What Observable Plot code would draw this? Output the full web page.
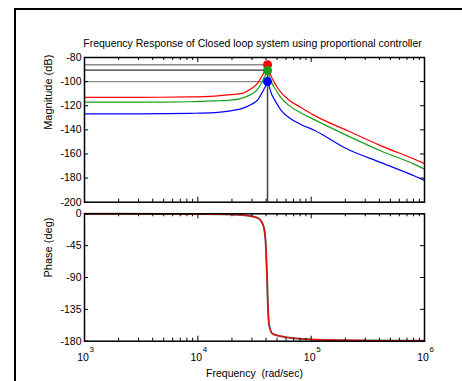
<!DOCTYPE html>
<html><head><meta charset="utf-8">
<script src="https://cdn.jsdelivr.net/npm/d3@7"></script>
<script src="https://cdn.jsdelivr.net/npm/@observablehq/plot@0.6"></script>
<style>
html,body{margin:0;padding:0;background:#fff;}
#wrap{position:relative;width:462px;height:381px;overflow:hidden;font-family:"Liberation Sans",Arial,sans-serif;}
#top,#bot{position:absolute;left:0;}
#top{top:0px}
#bot{top:206px}
#border{position:absolute;left:14px;top:8px;width:460px;height:380px;border-top:2px solid #000;border-left:2px solid #000;box-sizing:border-box;}
svg{overflow:visible}
</style></head><body>
<div id="wrap"><div id="top"></div><div id="bot"></div><div id="border"></div></div>
<script>
// ---- data ----
const title = "Frequency Response of Closed loop system using proportional controller";
const magFreq = [1000, 3162, 8710, 14130, 19500, 25100, 29500, 33900, 36000, 38500, 40300, 41200, 42170, 44200, 48900, 54100, 63100, 81300, 106400, 210400, 414000, 816600, 1000000];
const redMag   = [-113, -113, -112.7, -112, -110.8, -109.5, -106, -101, -97, -92, -88, -86, -89, -95, -103, -109, -115, -121.5, -128, -140.8, -153.3, -164.4, -168];
const greenMag = [-117, -117, -116.7, -116, -115.3, -113.5, -110.5, -106, -102, -96.5, -93, -91, -93.5, -99.5, -107, -113.3, -119.5, -126, -131.5, -145, -157.5, -168.6, -172.5];
const blueMag  = [-126.7, -126.7, -126.3, -125.7, -124.2, -122, -119, -115, -111, -106, -102, -100, -102.5, -109, -117, -123.6, -129.5, -135.5, -140.3, -156.1, -167.2, -178.3, -181.9];
const peakFreq = 41200;
const peakMag = [-86, -90.8, -100];           // red, green, blue peak markers
const refLevels = [-86, -90.5, -100];          // horizontal reference lines
const refColors = ["#8a8a8a", "#333333", "#8a8a8a"];
const seriesColors = ["#ff0000", "#1a9e1a", "#0000ff"];
const phaseFreq = [1000, 5000, 10000, 19500, 29500, 34750, 37240, 38460, 39810, 40640, 41000, 41400, 42660, 45710, 54100, 99000, 316000, 1000000];
const phaseDeg  = [0, -0.2, -0.4, -1, -3.4, -7, -14, -21, -45, -82, -100, -125, -158, -169.5, -173, -177.5, -179, -179.5];
const magTicks = [-80, -100, -120, -140, -160, -180, -200];
const phaseTicks = [0, -45, -90, -135, -180];
const xMajor = [1e3, 1e4, 1e5, 1e6];
const xExpLabels = ["3", "4", "5", "6"];
const xMinor = [];
for (const d of [1e3, 1e4, 1e5]) for (let m = 2; m <= 9; m++) xMinor.push(d * m);

const font = "Liberation Sans, Arial, sans-serif";
const FS = 10.5;
const W = 462, ML = 84, MR = 38, FW = W - ML - MR;
const hyphen = d => String(d);

function tickMarks(yTicks, FH) {
  return [
    Plot.tickY(yTicks, {y: d => d, insetRight: FW - 4, stroke: "#000"}),
    Plot.tickY(yTicks, {y: d => d, insetLeft: FW - 4, stroke: "#000"}),
    Plot.tickX(xMajor, {x: d => d, insetBottom: FH - 5, stroke: "#000"}),
    Plot.tickX(xMajor, {x: d => d, insetTop: FH - 5, stroke: "#000"}),
    Plot.tickX(xMinor, {x: d => d, insetBottom: FH - 3, stroke: "#000"}),
    Plot.tickX(xMinor, {x: d => d, insetTop: FH - 3, stroke: "#000"})
  ];
}

const mag = (vals) => magFreq.map((f, i) => ({f, v: vals[i]}));
const series = [redMag, greenMag, blueMag].map(mag);

// ---- top: magnitude ----
const topH = 206, topMT = 57, topMB = 4.3, topFH = topH - topMT - topMB;
const topPlot = Plot.plot({
  width: W, height: topH, marginLeft: ML, marginRight: MR, marginTop: topMT, marginBottom: topMB,
  style: {background: "transparent", fontFamily: font, fontSize: FS + "px", color: "#000"},
  x: {type: "log", domain: [1e3, 1e6], axis: null},
  y: {domain: [-200, -80], axis: null},
  marks: [
    ...refLevels.map((lv, i) => Plot.ruleY([{a: 1e3, b: peakFreq, y: lv}], {y: "y", x1: "a", x2: "b", stroke: refColors[i], strokeWidth: 1.3})),
    Plot.ruleX([{x: peakFreq, y1: peakMag[0], y2: -200}], {x: "x", y1: "y1", y2: "y2", stroke: "#444", strokeWidth: 1.5}),
    ...series.map((s, i) => Plot.line(s, {x: "f", y: "v", stroke: seriesColors[i], strokeWidth: 1.2, curve: "monotone-x"})),
    ...peakMag.map((p, i) => Plot.dot([{x: peakFreq, y: p}], {x: "x", y: "y", r: 4.5, fill: seriesColors[i], stroke: "none"})),
    ...tickMarks(magTicks, topFH),
    Plot.frame({stroke: "#000", strokeWidth: 1.5}),
    Plot.axisY({ticks: magTicks, tickFormat: hyphen, tickSize: 0, tickPadding: 3, label: null, fontSize: FS}),
    Plot.text([title], {frameAnchor: "top", dy: -13.5, dx: -2, text: d => d, fontSize: FS, lineAnchor: "middle"}),
    Plot.text(["Magnitude (dB)"], {frameAnchor: "left", dx: -36, rotate: -90, text: d => d, fontSize: 11, lineAnchor: "middle"})
  ]
});
document.getElementById("top").appendChild(topPlot);

// ---- bottom: phase ----
const botH = 175, botMT = 7.3, botMB = 40.3, botFH = botH - botMT - botMB;
const ph = phaseFreq.map((f, i) => ({f, v: phaseDeg[i]}));
const botPlot = Plot.plot({
  width: W, height: botH, marginLeft: ML, marginRight: MR, marginTop: botMT, marginBottom: botMB,
  style: {background: "transparent", fontFamily: font, fontSize: FS + "px", color: "#000"},
  x: {type: "log", domain: [1e3, 1e6], axis: null},
  y: {domain: [-180, 0], axis: null},
  marks: [
    Plot.line(ph, {x: "f", y: "v", stroke: "#666", strokeWidth: 2, curve: "monotone-x"}),
    Plot.line(ph, {x: "f", y: "v", stroke: "#ff0000", strokeWidth: 1.2, curve: "monotone-x"}),
    ...tickMarks(phaseTicks, botFH),
    Plot.frame({stroke: "#000", strokeWidth: 1.5}),
    Plot.axisY({ticks: phaseTicks, tickFormat: hyphen, tickSize: 0, tickPadding: 3, label: null, fontSize: FS}),
    Plot.text(xMajor, {x: d => d, frameAnchor: "bottom", dy: 16, dx: -1.5, text: () => "10", fontSize: FS, lineAnchor: "middle"}),
    Plot.text(xMajor, {x: d => d, frameAnchor: "bottom", dy: 8.5, dx: 5, text: (d, i) => xExpLabels[i], fontSize: 8, textAnchor: "start", lineAnchor: "middle"}),
    Plot.text(["Frequency \u00a0(rad/sec)"], {frameAnchor: "bottom", dy: 32.3, text: d => d, fontSize: FS, lineAnchor: "middle"}),
    Plot.text(["Phase (deg)"], {frameAnchor: "left", dx: -36, rotate: -90, text: d => d, fontSize: 11, lineAnchor: "middle"})
  ]
});
document.getElementById("bot").appendChild(botPlot);
</script>
</body></html>
